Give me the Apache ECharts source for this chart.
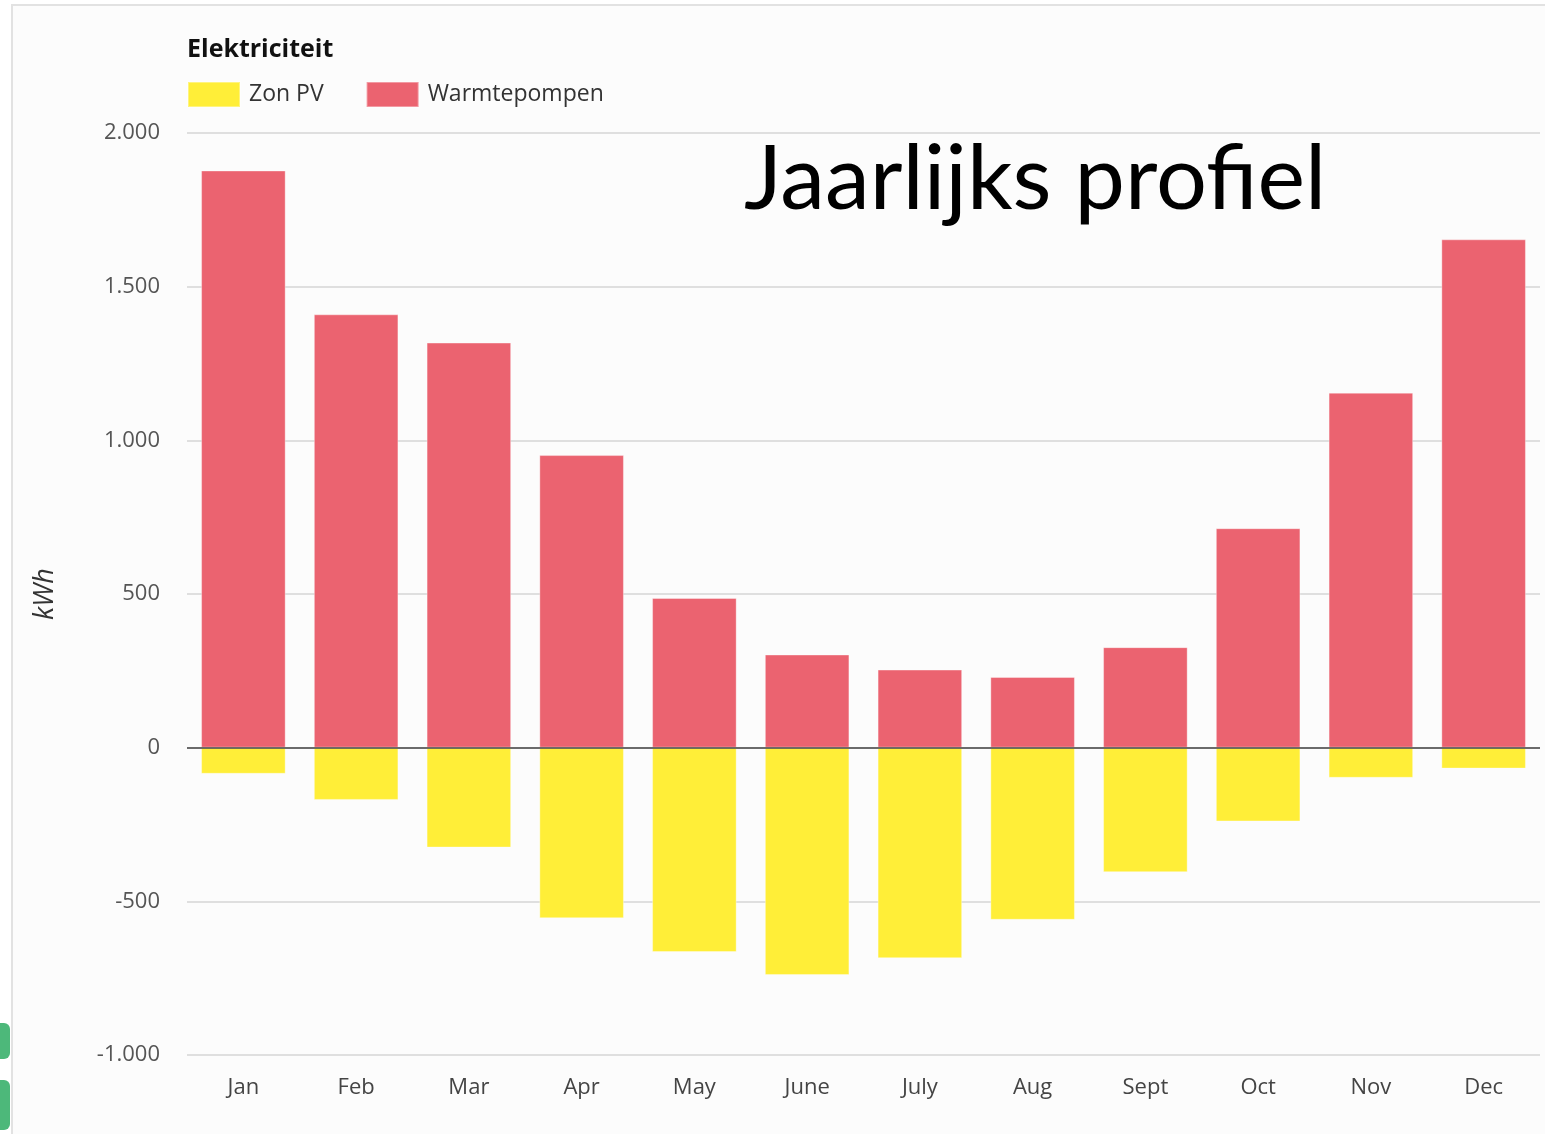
<!DOCTYPE html>
<html>
<head>
<meta charset="utf-8">
<script src="https://cdn.jsdelivr.net/npm/echarts@6/dist/echarts.min.js"></script>
<style>
  html, body { margin: 0; padding: 0; background: #ffffff; }
  #chart { width: 1545px; height: 1134px; }
</style>
</head>
<body>
<div id="chart"></div>
<script>
// maanden
const months = ['Jan', 'Feb', 'Mar', 'Apr', 'May', 'June', 'July', 'Aug', 'Sept', 'Oct', 'Nov', 'Dec']
// opwek zon (negatief), kWh
const zonPV = [-85, -170, -325, -555, -665, -740, -685, -560, -405, -240, -98, -68]
// verbruik warmtepompen, kWh
const warmtepompen = [1878, 1410, 1318, 952, 487, 303, 254, 230, 327, 714, 1155, 1654]
// y-as
const yMin = -1000
const yMax = 2000
const yStep = 500

const chart = echarts.init(document.getElementById('chart'))

// duizendtallen met punt
function fmt (v) {
  const s = String(Math.abs(v)).replace(/\B(?=(\d{3})+(?!\d))/g, '.')
  return (v < 0 ? '-' : '') + s
}

const option = {
  backgroundColor: '#ffffff',
  animation: false,
  graphic: [
    { // kader
      type: 'rect',
      shape: { x: 12, y: 5, width: 1545, height: 1140 },
      style: { fill: '#fcfcfc', stroke: '#e2e2e2', lineWidth: 2 },
      z: -10
    },
    { // stukje logo linksonder
      type: 'rect',
      shape: { x: -6, y: 1023, width: 16, height: 36, r: 6 },
      style: { fill: '#4db87a' }
    },
    {
      type: 'rect',
      shape: { x: -6, y: 1080, width: 16, height: 50, r: 6 },
      style: { fill: '#4db87a' }
    }
  ],
  title: [
    {
      text: 'Elektriciteit',
      left: 187,
      top: 37,
      padding: 0,
      textStyle: { fontFamily: 'Open Sans', fontSize: 25, fontWeight: 'bold', color: '#111' }
    },
    {
      text: 'Jaarlijks profiel',
      left: 744,
      top: 135,
      padding: 0,
      textStyle: { fontFamily: 'Lato', fontSize: 90, fontWeight: 'normal', color: '#000' }
    }
  ],
  legend: {
    left: 187,
    top: 81,
    padding: 0,
    icon: 'rect',
    itemWidth: 52,
    itemHeight: 25,
    itemGap: 42,
    data: ['Zon PV', 'Warmtepompen'],
    textStyle: { fontFamily: 'Open Sans', fontSize: 23, color: '#333', padding: [0, 0, 0, 4] }
  },
  grid: {
    left: 187,
    right: 5,
    top: 133,
    bottom: 79
  },
  xAxis: {
    type: 'category',
    data: months,
    axisLine: { show: false, onZero: false },
    axisTick: { show: false },
    axisLabel: { fontFamily: 'Open Sans', fontSize: 22, color: '#444', margin: 22 }
  },
  yAxis: {
    type: 'value',
    min: yMin,
    max: yMax,
    interval: yStep,
    name: 'kWh',
    nameLocation: 'middle',
    nameRotate: 90,
    nameGap: 128,
    nameTextStyle: { fontFamily: 'Open Sans', fontSize: 27, fontStyle: 'italic', color: '#333' },
    axisLine: { show: false },
    axisTick: { show: false },
    axisLabel: {
      fontFamily: 'Open Sans',
      fontSize: 22,
      color: '#555',
      margin: 27,
      formatter: fmt
    },
    splitLine: { lineStyle: { color: '#d6d6d6', width: 1.5 } }
  },
  series: [
    {
      name: 'Zon PV',
      type: 'bar',
      stack: 'totaal',
      barWidth: '75%',
      data: zonPV,
      itemStyle: { color: '#ffee38', borderColor: 'rgba(255,255,255,0.35)', borderWidth: 1 }
    },
    {
      name: 'Warmtepompen',
      type: 'bar',
      stack: 'totaal',
      barWidth: '75%',
      data: warmtepompen,
      itemStyle: { color: '#eb6370', borderColor: 'rgba(255,255,255,0.35)', borderWidth: 1 },
      markLine: { // nullijn
        silent: true,
        symbol: 'none',
        label: { show: false },
        lineStyle: { color: '#444', width: 1.5, type: 'solid' },
        data: [{ yAxis: 0 }],
        z: 10
      }
    }
  ]
}

chart.setOption(option)
</script>
</body>
</html>
